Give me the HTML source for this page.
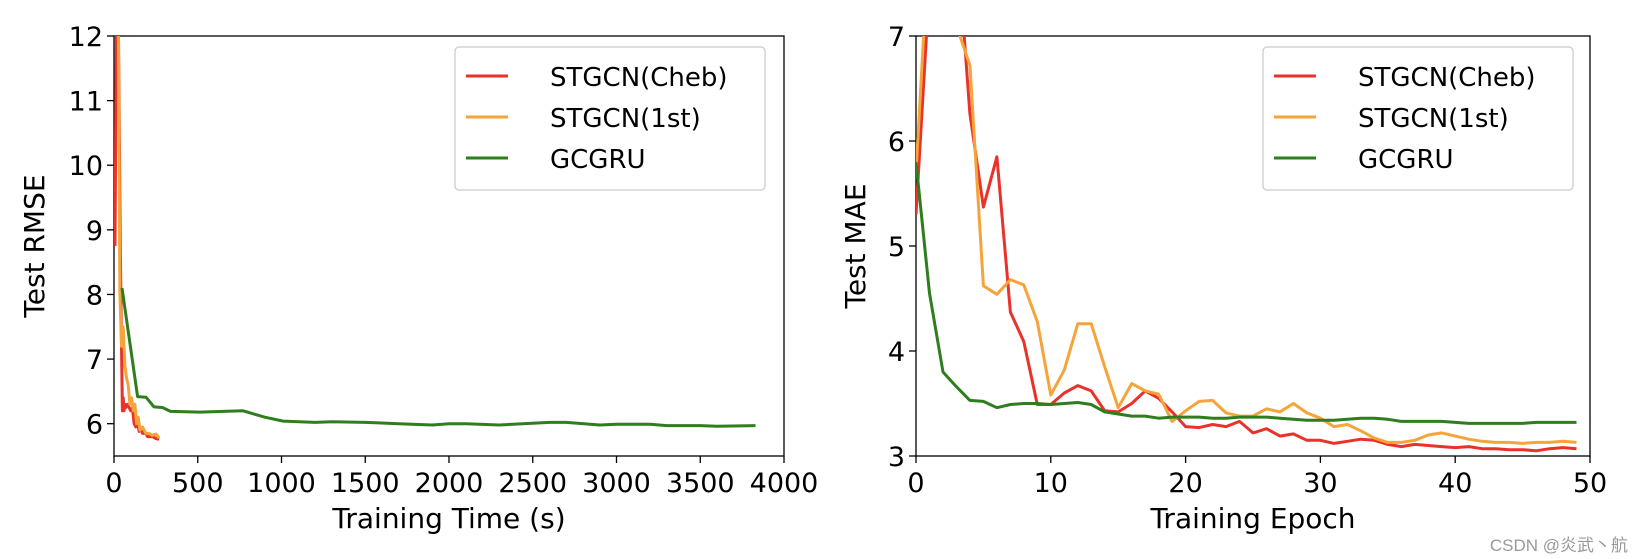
<!DOCTYPE html>
<html><head><meta charset="utf-8"><style>
html,body{margin:0;padding:0;background:#fff;}
svg{display:block;font-family:"DejaVu Sans","Liberation Sans","Noto Sans CJK SC",sans-serif;}
</style></head><body>
<svg id="c" width="1640" height="559" viewBox="0 0 1640 559" xmlns="http://www.w3.org/2000/svg">
<defs>
<clipPath id="clipL"><rect x="114" y="36" width="670" height="420"/></clipPath>
<clipPath id="clipR"><rect x="916" y="36" width="674" height="420"/></clipPath>
</defs>
<g id="gL"></g>
<g id="gR"></g>
<text x="1628" y="551" text-anchor="end" font-size="17" fill="#999" font-family="Liberation Sans, Noto Sans CJK SC, sans-serif">CSDN @炎武丶航</text>
</svg>
<script>
// Left chart data (time, RMSE)
const chebTime = [6,15,25,38,45,50,55,60,65,70,80,90,100,110,120,130,140,150,160,170,190,200,230,250,270];
const chebRmse = [8.75,12.5,12.5,8.6,7.2,6.2,6.4,6.2,6.3,6.25,6.3,6.25,6.2,6.25,6.0,5.95,6.05,5.88,5.92,5.85,5.85,5.8,5.8,5.77,5.76];
const firstTime = [15,25,35,45,55,65,75,85,95,105,115,125,135,145,155,170,190,210,230,250,270];
const firstRmse = [12.5,12.5,8.0,7.2,7.5,6.9,6.7,6.6,6.3,6.4,6.2,6.3,6.0,6.1,5.9,5.95,5.85,5.85,5.82,5.84,5.78];
const gcgruTime = [48,141,191,239,289,338,513,771,900,1010,1200,1300,1500,1700,1900,2000,2100,2300,2600,2700,2900,3000,3200,3300,3500,3600,3830];
const gcgruRmse = [8.1,6.42,6.41,6.26,6.25,6.19,6.18,6.2,6.1,6.04,6.02,6.03,6.02,6.0,5.98,6.0,6.0,5.98,6.02,6.02,5.98,5.99,5.99,5.97,5.97,5.96,5.97];
const xTicksL = [0,500,1000,1500,2000,2500,3000,3500,4000];
const yTicksL = [6,7,8,9,10,11,12];
// Right chart data (epoch 0..49, MAE)
const chebMae = [5.3,7.5,8,8,6.26,5.37,5.85,4.37,4.09,3.49,3.49,3.6,3.67,3.62,3.43,3.42,3.5,3.62,3.55,3.42,3.28,3.27,3.3,3.28,3.33,3.22,3.26,3.19,3.21,3.15,3.15,3.12,3.14,3.16,3.15,3.11,3.09,3.11,3.1,3.09,3.08,3.09,3.07,3.07,3.06,3.06,3.05,3.07,3.08,3.07];
const firstMae = [5.7,8,8,7.1,6.72,4.62,4.54,4.68,4.63,4.28,3.58,3.82,4.26,4.26,3.85,3.46,3.69,3.62,3.59,3.33,3.43,3.52,3.53,3.41,3.38,3.38,3.45,3.42,3.5,3.41,3.36,3.28,3.3,3.24,3.17,3.13,3.13,3.15,3.2,3.22,3.19,3.16,3.14,3.13,3.13,3.12,3.13,3.13,3.14,3.13];
const gcgruMae = [5.8,4.55,3.8,3.66,3.53,3.52,3.46,3.49,3.5,3.5,3.49,3.5,3.51,3.49,3.42,3.4,3.38,3.38,3.36,3.37,3.37,3.37,3.36,3.36,3.37,3.37,3.37,3.36,3.35,3.34,3.34,3.34,3.35,3.36,3.36,3.35,3.33,3.33,3.33,3.33,3.32,3.31,3.31,3.31,3.31,3.31,3.32,3.32,3.32,3.32];
const xTicksR = [0,10,20,30,40,50];
const yTicksR = [3,4,5,6,7];
const names = ["STGCN(Cheb)","STGCN(1st)","GCGRU"];
const colors = ["#e8322a","#f5a43a","#2e7d1e"];

const NS="http://www.w3.org/2000/svg";
function mk(tag,attrs,parent,txt){const e=document.createElementNS(NS,tag);for(const k in attrs)e.setAttribute(k,attrs[k]);if(txt!==undefined)e.textContent=txt;parent.appendChild(e);return e;}

function chart(g,x0,x1,y0,y1,xmin,xmax,ymin,ymax,xt,yt,xlabel,ylabel,ylabX,series,clip,legX){
  const sx=v=>x0+(v-xmin)/(xmax-xmin)*(x1-x0);
  const sy=v=>y1-(v-ymin)/(ymax-ymin)*(y1-y0);
  const frame=mk('rect',{x:x0,y:y0,width:x1-x0,height:y1-y0,fill:'none',stroke:'#000','stroke-width':1.3},g);
  
  
  xt.forEach(v=>{
    const t=mk('line',{x1:sx(v),x2:sx(v),y1:y1,y2:y1+7,stroke:'#000','stroke-width':1.3},g);
    
    
    const l=mk('text',{x:sx(v),y:y1+36,'text-anchor':'middle','font-size':27},g,String(v));
    
    
  });
  yt.forEach(v=>{
    const t=mk('line',{x1:x0-7,x2:x0,y1:sy(v),y2:sy(v),stroke:'#000','stroke-width':1.3},g);
    
    
    const l=mk('text',{x:x0-11,y:sy(v)+10,'text-anchor':'end','font-size':27},g,String(v));
    
    
  });
  const xl=mk('text',{x:(x0+x1)/2,y:528,'text-anchor':'middle','font-size':28},g,xlabel);
  
  
  const yl=mk('text',{x:ylabX,y:(y0+y1)/2,'text-anchor':'middle','font-size':28,transform:`rotate(-90 ${ylabX} ${(y0+y1)/2})`},g,ylabel);
  
  
  const cg=mk('g',{'clip-path':`url(#${clip})`},g);
  series.forEach((s,i)=>{
    const pts=s.x.map((xv,j)=>sx(xv).toFixed(1)+','+sy(s.y[j]).toFixed(1)).join(' ');
    const p=mk('polyline',{points:pts,fill:'none',stroke:colors[i],'stroke-width':3,'stroke-linejoin':'round'},cg);
    
    
  });
  const lg=mk('g',{},g);
  
  
  mk('rect',{x:legX,y:47,width:310,height:143,rx:4,fill:'#fff','fill-opacity':0.8,stroke:'#ccc','stroke-width':1.3},lg);
  names.forEach((n,i)=>{
    const yy=76+i*41;
    const e=mk('g',{},lg);
    
    
    mk('line',{x1:legX+11,x2:legX+53,y1:yy,y2:yy,stroke:colors[i],'stroke-width':3},e);
    mk('text',{x:legX+95,y:yy+10,'font-size':26},e,n);
  });
}
const idx=chebMae.map((_,i)=>i);
chart(document.getElementById('gL'),114,784,36,456,0,4000,5.5,12,xTicksL,yTicksL,'Training Time (s)','Test RMSE',44,
  [{x:chebTime,y:chebRmse},{x:firstTime,y:firstRmse},{x:gcgruTime,y:gcgruRmse}],'clipL',455);
chart(document.getElementById('gR'),916,1590,36,456,0,50,3,7,xTicksR,yTicksR,'Training Epoch','Test MAE',865,
  [{x:idx,y:chebMae},{x:idx,y:firstMae},{x:idx,y:gcgruMae}],'clipR',1263);
</script>
</body></html>
